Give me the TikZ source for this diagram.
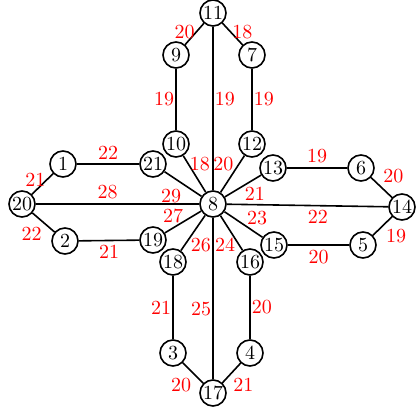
\documentclass[tikz,border=0pt]{standalone}
\usepackage{tikz}
\usetikzlibrary{positioning}

\begin{document}
\begin{tikzpicture}[
    x=0.5pt, y=-0.5pt,
    vertex/.style={circle, draw, line width=0.8pt, minimum size=13pt, inner sep=0pt},
    edge/.style={line width=0.8pt},
    weight/.style={text=red, inner xsep=0.5pt, inner ysep=2pt}
]
\useasboundingbox (0,0) rectangle (417,411);

% Vertices
\node (n11) [vertex] at (213,13) {11};
\node (n9) [vertex] at (176,55) {9};
\node (n7) [vertex] at (252,55) {7};
\node (n10) [vertex] at (176,144) {10};
\node (n12) [vertex] at (252,144) {12};
\node (n1) [vertex] at (63,164) {1};
\node (n21) [vertex] at (153,164) {21};
\node (n13) [vertex] at (273,168) {13};
\node (n6) [vertex] at (361,168) {6};
\node (n20) [vertex] at (22,204) {20};
\node (n8) [vertex] at (213,204) {8};
\node (n14) [vertex] at (402,207) {14};
\node (n2) [vertex] at (65,241) {2};
\node (n19) [vertex] at (153,240) {19};
\node (n15) [vertex] at (274,245) {15};
\node (n5) [vertex] at (363,245) {5};
\node (n18) [vertex] at (173,262) {18};
\node (n16) [vertex] at (250,262) {16};
\node (n3) [vertex] at (173,353) {3};
\node (n4) [vertex] at (250,353) {4};
\node (n17) [vertex] at (213,393) {17};

% Edges
\draw [edge] (n11) -- node [weight, left, pos=.4] {20} (n9);
\draw [edge] (n11) -- node [weight, right, pos=.4] {18} (n7);
\draw [edge] (n9) -- node [weight, left] {19} (n10);
\draw [edge] (n11) -- node [weight, right, pos=.44] {19} (n8);
\draw [edge] (n7) -- node [weight, right] {19} (n12);
\draw [edge] (n10) -- node [weight, right, pos=.22] {18} (n8);
\draw [edge] (n12) -- node [weight, left=2pt, pos=.22] {20} (n8);
\draw [edge] (n20) -- node [weight, left, pos=.72] {21} (n1);
\draw [edge] (n1) -- node [weight, above] {22} (n21);
\draw [edge] (n21) -- node [weight, below left] {29} (n8);
\draw [edge] (n20) -- node [weight, above, pos=.44] {28} (n8);
\draw [edge] (n20) -- node [weight, below left] {22} (n2);
\draw [edge] (n2) -- node [weight, below] {21} (n19);
\draw [edge] (n19) -- node [weight, above, pos=.23] {27} (n8);
\draw [edge] (n18) -- node [weight, right=2pt, pos=.17] {26} (n8);
\draw [edge] (n16) -- node [weight, left=1pt, pos=.17] {24} (n8);
\draw [edge] (n8) -- node [weight, below right, yshift=2pt] {21} (n13);
\draw [edge] (n8) -- node [weight, above right, pos=.55, yshift=-2pt] {23} (n15);
\draw [edge] (n8) -- node [weight, below, pos=.565] {22} (n14);
\draw [edge] (n13) -- node [weight, above] {19} (n6);
\draw [edge] (n6) -- node [weight, above right] {20} (n14);
\draw [edge] (n15) -- node [weight, below] {20} (n5);
\draw [edge] (n5) -- node [weight, below right, pos=.6] {19} (n14);
\draw [edge] (n18) -- node [weight, left] {21} (n3);
\draw [edge] (n8) -- node [weight, left, pos=.565] {25} (n17);
\draw [edge] (n16) -- node [weight, right] {20} (n4);
\draw [edge] (n3) -- node [weight, below left] {20} (n17);
\draw [edge] (n4) -- node [weight, below right] {21} (n17);

\end{tikzpicture}
\end{document}
